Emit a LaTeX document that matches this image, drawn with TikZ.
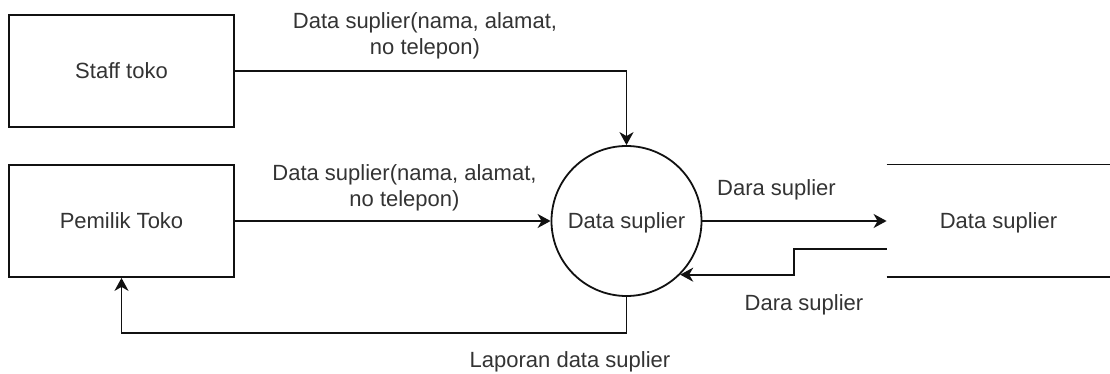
\documentclass[tikz,border=0pt]{standalone}
\usepackage{fontspec}
\setmainfont{Liberation Sans}
\usetikzlibrary{arrows.meta,calc}

\definecolor{inkline}{HTML}{111111}
\definecolor{inktext}{HTML}{333333}

\tikzset{
  base font/.style={font=\fontsize{11pt}{13pt}\selectfont, text=inktext},
  entity/.style={draw=inkline, line width=0.9pt, rectangle, base font,
    minimum width=112.5pt, minimum height=56pt, inner sep=0pt,
    text height=0.716em, text depth=0pt},
  process/.style={draw=inkline, line width=0.9pt, circle, base font,
    minimum size=75pt, inner sep=0pt, text height=0.716em, text depth=0pt},
  storebox/.style={rectangle, base font, minimum width=111.5pt,
    minimum height=56pt, inner sep=0pt, text height=0.716em, text depth=0pt},
  storeline/.style={draw=inkline, line width=0.9pt},
  flow/.style={draw=inkline, line width=0.9pt,
    -{Stealth[length=6.5pt, width=7pt, inset=2pt]}},
  flowlabel/.style={base font, inner sep=0pt, align=center},
  onelabel/.style={base font, inner sep=0pt, text height=0.716em, text depth=0pt}
}

\begin{document}
\begin{tikzpicture}[x=0.5pt, y=-0.5pt]
  \useasboundingbox (0,0) rectangle (1110,374);

  % external entities
  \node[entity] (staff) at (121.5,71) {Staff toko};
  \node[entity] (pemilik) at (121.5,221) {Pemilik Toko};

  % process
  \node[process] (proc) at (626.5,221) {Data suplier};

  % data store (open rectangle)
  \node[storebox] (store) at (998.5,221) {Data suplier};
  \draw[storeline] (store.north west) -- (store.north east);
  \draw[storeline] (store.south west) -- (store.south east);

  % data flows
  \draw[flow] (staff.east) -| (proc.north);
  \node[flowlabel] (lstaff) at (425,35.8) {Data suplier(nama, alamat,\\no telepon)};

  \draw[flow] (pemilik.east) -- (proc.west);
  \node[flowlabel] (lpemilik) at (404.5,187.8) {Data suplier(nama, alamat,\\no telepon)};

  \coordinate (lowrow) at (0,333);
  \draw[flow] (proc.south) -- (proc.south |- lowrow) -| (pemilik.south);
  \node[onelabel] (lreport) at (570,360) {Laporan data suplier};

  \draw[flow] (proc.east) -- (store.west);
  \node[onelabel] (lout) at (776.5,188) {Dara suplier};

  \coordinate (storein) at ($(store.west)+(0,28)$);
  \draw[flow] (storein) -- ++(-93,0) |- (proc.-45);
  \node[onelabel] (lin) at (804,303) {Dara suplier};
\end{tikzpicture}
\end{document}
